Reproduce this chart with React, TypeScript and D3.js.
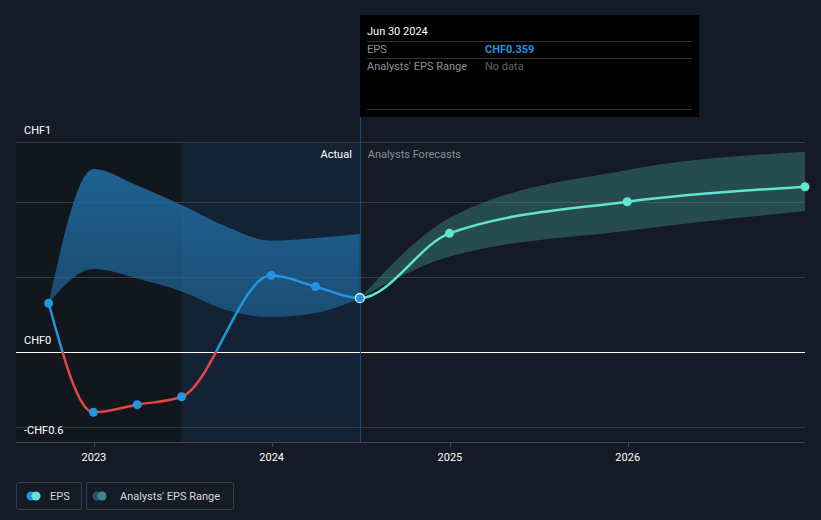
import React from "react";
import * as d3 from "d3";

const W = 821;
const H = 520;

const actualDates = ["2022-09-30", "2022-12-31", "2023-03-31", "2023-06-30", "2023-12-31", "2024-03-31", "2024-06-30"];
const actualEps = [0.325, -0.402, -0.351, -0.298, 0.511, 0.436, 0.359];

const actualRangeDates = ["2022-09-30", "2022-12-31", "2023-03-31", "2023-06-30", "2023-09-30", "2023-12-31", "2024-03-31", "2024-06-30"];
const actualRangeHigh = [0.325, 1.22, 1.11, 0.98, 0.835, 0.742, 0.76, 0.787];
const actualRangeLow = [0.325, 0.553, 0.49, 0.403, 0.28, 0.233, 0.26, 0.359];

const forecastDates = ["2024-06-30", "2024-12-31", "2025-12-31", "2026-12-31"];
const forecastEps = [0.359, 0.791, 1.002, 1.102];
const forecastHigh = [0.359, 0.893, 1.213, 1.335];
const forecastLow = [0.359, 0.636, 0.809, 0.94];

const gridValues = [1.4, 1.0, 0.5, -0.5];
const yLabels = [
  { text: "CHF1", v: 1.4, dy: -8 },
  { text: "CHF0", v: 0, dy: -8 },
  { text: "-CHF0.6", v: -0.5, dy: 7 },
];
const xTicks = ["2023-01-01", "2024-01-01", "2025-01-01", "2026-01-01"];

const parse = d3.timeParse("%Y-%m-%d");
const FONT = "Roboto, 'Noto Sans', sans-serif";

export default function App() {
  const x = d3
    .scaleTime()
    .domain([parse("2022-07-25")!, parse("2026-12-31")!])
    .range([16, 805]);
  const y = d3.scaleLinear().domain([-0.6, 1.4]).range([442, 142]);

  const aPts = actualDates.map((d, i) => ({ x: x(parse(d)!), y: y(actualEps[i]) }));
  const fPts = forecastDates.map((d, i) => ({ x: x(parse(d)!), y: y(forecastEps[i]) }));
  const allPts = aPts.concat(fPts.slice(1));

  const line = d3
    .line<{ x: number; y: number }>()
    .x((d) => d.x)
    .y((d) => d.y)
    .curve(d3.curveMonotoneX);

  const area = (dates: string[], hi: number[], lo: number[]) =>
    d3
      .area<number>()
      .x((i) => x(parse(dates[i])!))
      .y0((i) => y(lo[i]))
      .y1((i) => y(hi[i]))
      .curve(d3.curveMonotoneX)(dates.map((_, i) => i)) || "";

  const nowX = x(parse("2024-06-30")!);
  const hlStart = x(parse("2023-06-30")!);
  const zeroY = y(0);
  const bottom = y(-0.6);
  const top = y(1.4);
  const px = (v: number) => Math.round(v) + 0.5;
  const fullPath = line(allPts) || "";

  return (
    <div style={{ position: "fixed", left: 0, top: 0, width: W, height: H }}>
      <svg width={W} height={H} style={{ display: "block", fontFamily: FONT }}>
        <defs>
          <linearGradient id="actBand" x1="0" x2="0" y1={y(1.25)} y2={y(0.2)} gradientUnits="userSpaceOnUse">
            <stop offset="0" stopColor="#2170a8" stopOpacity={0.85} />
            <stop offset="1" stopColor="#2170a8" stopOpacity={0.55} />
          </linearGradient>
          <clipPath id="posA">
            <rect x={0} y={0} width={nowX} height={zeroY} />
          </clipPath>
          <clipPath id="negA">
            <rect x={0} y={zeroY} width={nowX} height={H - zeroY} />
          </clipPath>
          <clipPath id="fut">
            <rect x={nowX} y={0} width={W - nowX} height={H} />
          </clipPath>
        </defs>
        <rect x={0} y={0} width={W} height={H} fill="#151b26" />
        <rect x={16} y={top} width={hlStart - 16} height={bottom - top} fill="#12161d" />
        <rect x={hlStart} y={top} width={nowX - hlStart} height={bottom - top} fill="#142334" />

        {gridValues.map((v) => (
          <line key={v} x1={16} x2={805} y1={px(y(v))} y2={px(y(v))} stroke="#353b45" strokeWidth={1} />
        ))}
        <line x1={16} x2={805} y1={px(bottom)} y2={px(bottom)} stroke="#3f4650" strokeWidth={1} />
        {xTicks.map((t) => (
          <g key={t}>
            <line x1={px(x(parse(t)!))} x2={px(x(parse(t)!))} y1={bottom} y2={bottom + 5} stroke="#3f4650" />
            <text x={x(parse(t)!)} y={461} fill="#ffffff" fontSize={11} textAnchor="middle">
              {t.slice(0, 4)}
            </text>
          </g>
        ))}

        <path d={area(actualRangeDates, actualRangeHigh, actualRangeLow)} fill="url(#actBand)" />
        <path d={area(forecastDates, forecastHigh, forecastLow)} fill="#3d8a83" fillOpacity={0.45} />

        <line x1={16} x2={805} y1={px(zeroY)} y2={px(zeroY)} stroke="#ffffff" strokeWidth={1} />

        <line x1={px(nowX)} x2={px(nowX)} y1={15} y2={bottom} stroke="#1d4a6c" strokeWidth={1} />

        <path d={fullPath} fill="none" stroke="#2394df" strokeWidth={2.5} clipPath="url(#posA)" />
        <path d={fullPath} fill="none" stroke="#e04646" strokeWidth={2.5} clipPath="url(#negA)" />
        <path d={fullPath} fill="none" stroke="#5ee6d0" strokeWidth={2.5} clipPath="url(#fut)" />

        {aPts.slice(0, -1).map((p, i) => (
          <circle key={i} cx={p.x} cy={p.y} r={4.5} fill="#2394df" />
        ))}
        {fPts.slice(1).map((p, i) => (
          <circle key={i} cx={p.x} cy={p.y} r={4.5} fill="#5ee6d0" />
        ))}
        <circle cx={nowX} cy={y(0.359)} r={4.5} fill="#2394df" stroke="#ffffff" strokeWidth={1.2} />

        {yLabels.map((l) => (
          <text key={l.text} x={24} y={y(l.v) + l.dy} fill="#ffffff" fontSize={11}>
            {l.text}
          </text>
        ))}

        <text x={nowX - 8} y={158} fill="#ffffff" fontSize={11} textAnchor="end">
          Actual
        </text>
        <text x={nowX + 8} y={158} fill="#8b9099" fontSize={11}>
          Analysts Forecasts
        </text>

        <rect x={360} y={15} width={339} height={102} fill="#000000" />
        <text x={367} y={35} fill="#ffffff" fontSize={11}>Jun 30 2024</text>
        <line x1={367} x2={692} y1={41.5} y2={41.5} stroke="#333333" />
        <text x={367} y={53} fill="#8b9099" fontSize={11}>EPS</text>
        <text x={485} y={53} fill="#2394df" fontSize={11} fontWeight="bold">CHF0.359</text>
        <line x1={367} x2={692} y1={58.5} y2={58.5} stroke="#333333" />
        <text x={367} y={70} fill="#8b9099" fontSize={11}>Analysts' EPS Range</text>
        <text x={485} y={70} fill="#5f646c" fontSize={11}>No data</text>
        <line x1={367} x2={692} y1={109.5} y2={109.5} stroke="#333333" />

        <rect x={16.5} y={482.5} width={65} height={27} rx={2} fill="none" stroke="#3a404a" />
        <circle cx={31} cy={496} r={4.5} fill="#2394df" />
        <circle cx={36} cy={496} r={4.5} fill="#5ee6d0" />
        <text x={50} y={500} fill="#d5d7da" fontSize={11}>EPS</text>

        <rect x={86.5} y={482.5} width={147} height={27} rx={2} fill="none" stroke="#3a404a" />
        <circle cx={97} cy={496} r={4.5} fill="#1f5580" />
        <circle cx={102} cy={496} r={4.5} fill="#3d8a83" />
        <text x={120} y={500} fill="#d5d7da" fontSize={11}>Analysts' EPS Range</text>
      </svg>
    </div>
  );
}
